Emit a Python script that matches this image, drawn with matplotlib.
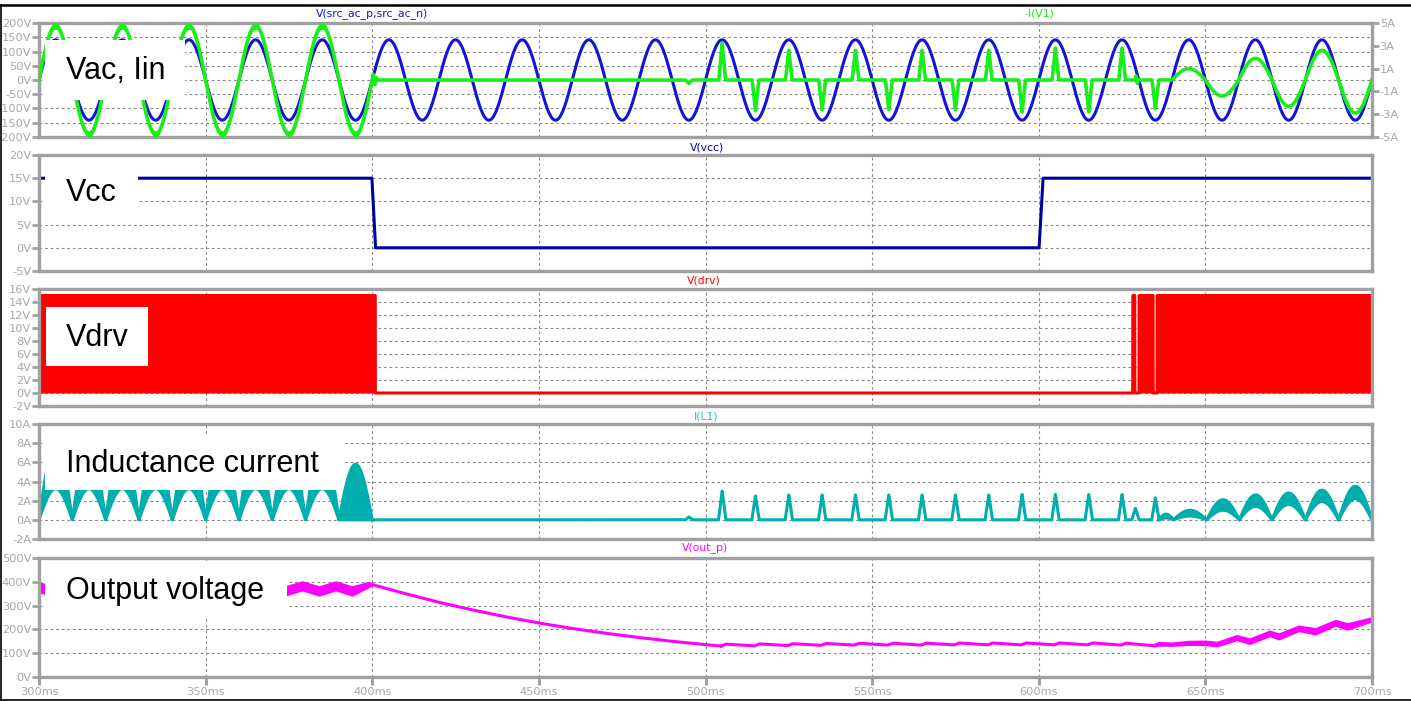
import numpy as np
import matplotlib
matplotlib.use('Agg')
import matplotlib.pyplot as plt
from matplotlib.patches import Rectangle
from matplotlib.lines import Line2D

W, H = 1411, 701
T0, T1 = 300, 700

# --- AC line ---
VAC_PEAK = 141.0
LINE_HZ = 50.0
PFC_STOP = 400.0

# --- input current -I(V1) ---
IIN_PEAK_RUN = 4.75
IIN_RIPPLE = 0.3
IIN_RING_T = [400.3, 400.8, 401.3, 629.2, 629.6]
IIN_RING_A = [0.5, -0.4, 0.2, 0.35, -0.3]
IIN_SPIKE_T = [495, 505, 515, 525, 535, 545, 555, 565, 575, 585, 595, 605, 615, 625, 635]
IIN_SPIKE_A = [-0.3, 3.2, -2.7, 2.6, -2.6, 2.6, -2.6, 2.6, -2.6, 2.6, -2.8, 2.8, -2.8, 2.8, -2.5]
IIN_RESTART_EDGES = [640, 650, 660, 670, 680, 690, 700]
IIN_RESTART_PK = [1.0, -1.4, 1.9, -2.3, 2.6, -2.9]

# --- Vcc ---
VCC_T = [300, 399.9, 401.0, 600.1, 601.3, 700]
VCC_V = [15, 15, 0, 0, 15, 15]

# --- gate drive bursts (solid at this time scale) ---
DRV_ON_START = [300.0, 628.2, 630.1, 635.5]
DRV_ON_END = [400.9, 628.8, 634.3, 700.0]
DRV_HIGH = 15.0

# --- inductor current I(L1) ---
IL_RUN_EDGES = [300, 310, 320, 330, 340, 350, 360, 370, 380, 390, 400]
IL_RUN_UPPER = [7.8, 7.8, 7.8, 7.8, 7.8, 7.8, 7.8, 7.8, 7.8, 5.8]
IL_RUN_LOWER = [3.25, 3.25, 3.25, 3.25, 3.25, 3.25, 3.25, 3.25, 3.25, 0.0]
IL_SPIKE_T = [495, 505, 515, 525, 535, 545, 555, 565, 575, 585, 595, 605, 615, 625, 629, 635]
IL_SPIKE_A = [0.3, 3.0, 2.5, 2.6, 2.6, 2.6, 2.6, 2.6, 2.6, 2.6, 2.65, 2.65, 2.65, 2.65, 1.2, 2.3]
IL_HUMP_EDGES = [636, 640.4, 650.4, 660.2, 670, 680, 690, 700]
IL_HUMP_UPPER = [0.6, 1.0, 2.1, 2.6, 2.8, 3.1, 3.5]
IL_HUMP_LOWER = [0.2, 0.4, 1.0, 1.4, 1.6, 1.9, 2.2]

# --- output voltage V(out_p) ---
VOUT_RUN_T = [300, 304, 309, 314, 319, 324, 329, 334, 339, 344, 349,
              354, 359, 364, 369, 374, 379, 384, 389, 394, 399, 400]
VOUT_RUN_HI = [396, 380, 400, 380, 400, 380, 400, 380, 400, 380, 400,
               380, 400, 380, 400, 380, 400, 379, 400, 379, 398, 391]
VOUT_RUN_LO = [357, 345, 366, 345, 366, 345, 366, 345, 366, 345, 366,
               345, 366, 345, 366, 345, 366, 344, 366, 344, 380, 386]
VOUT_DECAY_T = [400, 410, 420, 430, 440, 450, 460, 470, 480, 490, 500, 504.7]
VOUT_DECAY_V = [388, 350, 314, 282, 253, 227, 204, 184, 166, 150, 136, 130]
VOUT_STEP_T = [505, 515, 525, 535, 545, 555, 565, 575, 585, 595, 605, 615, 625]
VOUT_STEP_LO = [130, 131, 132, 133, 134, 134, 134, 135, 135, 135, 135, 135, 134]
VOUT_STEP_HI = [138, 139, 140, 141, 142, 142, 142, 143, 143, 143, 143, 143, 142]
VOUT_RISE_T = [634.7, 636, 640, 645, 650, 653.5, 659.4, 663.3, 669.3, 672, 678, 683, 689, 692.6, 700]
VOUT_RISE_HI = [138, 145, 143, 150, 151, 146, 174, 160, 193, 181, 214, 203, 238, 224, 249]
VOUT_RISE_LO = [131, 134, 133, 137, 136, 131, 157, 141, 174, 160, 195, 181, 218, 201, 236]

BLUE = '#1414d8'
GREEN = '#1aee1a'
NAVY = '#0000a0'
RED = '#ff0000'
TEAL = '#00aeae'
MAGENTA = '#ff00ff'
AXIS_GRAY = '#a0a0a0'
LABEL_GRAY = '#a8a8a8'
GRID = '#8a8a8a'
LW = 2.2

t = np.linspace(T0, T1, 40001)
phase = 2 * np.pi * LINE_HZ * t / 1000.0
run = t <= PFC_STOP


def pulses(times, amps, half_width):
    out = np.zeros_like(t)
    for tc, a in zip(times, amps):
        out += a * np.clip(1 - np.abs(t - tc) / half_width, 0, None)
    return out


def half_cycles(edges, peaks):
    out = np.zeros_like(t)
    for a, b, p in zip(edges[:-1], edges[1:], peaks):
        m = (t >= a) & (t <= b)
        out[m] = p * np.sin(np.pi * (t[m] - a) / (b - a))
    return out


vac = VAC_PEAK * np.sin(phase)
iin = (np.where(run, IIN_PEAK_RUN * np.sin(phase), 0)
       + pulses(IIN_RING_T, IIN_RING_A, 0.25)
       + pulses(IIN_SPIKE_T, IIN_SPIKE_A, 1.0)
       + half_cycles(IIN_RESTART_EDGES, IIN_RESTART_PK))

drv = np.zeros_like(t)
for a, b in zip(DRV_ON_START, DRV_ON_END):
    drv[(t >= a) & (t <= b)] = DRV_HIGH

il_run_up = half_cycles(IL_RUN_EDGES, IL_RUN_UPPER)
il_run_lo = half_cycles(IL_RUN_EDGES, IL_RUN_LOWER)
il_up = half_cycles(IL_HUMP_EDGES, IL_HUMP_UPPER)
il_lo = half_cycles(IL_HUMP_EDGES, IL_HUMP_LOWER)
il_line = pulses(IL_SPIKE_T, IL_SPIKE_A, 1.1) + (il_up + il_lo) / 2

fig = plt.figure(figsize=(W / 100, H / 100), dpi=100)
plt.rcParams['font.family'] = 'DejaVu Sans'

L_PX, R_PX = 39, 1372


def panel(top, bottom, ylim, yticks, unit):
    ax = fig.add_axes([L_PX / W, 1 - bottom / H, (R_PX - L_PX) / W, (bottom - top) / H])
    ax.set_xlim(T0, T1)
    ax.set_ylim(*ylim)
    ax.set_yticks(yticks)
    ax.set_yticklabels([f'{v}{unit}' for v in yticks])
    ax.set_xticks(range(300, 701, 50))
    ax.tick_params(axis='x', length=0, labelbottom=False)
    ax.tick_params(axis='y', color=AXIS_GRAY, labelcolor=LABEL_GRAY, length=5,
                   width=2, pad=0.5, labelsize=8.2)
    for s in ax.spines.values():
        s.set_color(AXIS_GRAY)
        s.set_linewidth(2.4)
    ax.grid(True, color=GRID, ls=(0, (2.5, 2.5)), lw=0.8)
    ax.set_axisbelow(True)
    return ax


# Vac and input current
ax1 = panel(23, 137, (-200, 200), list(range(200, -201, -50)), 'V')
ax1.plot(t, vac, color=BLUE, lw=LW)
ax1r = ax1.twinx()
ax1r.set_ylim(-5, 5)
ax1r.set_yticks([5, 3, 1, -1, -3, -5])
ax1r.set_yticklabels(['5A', '3A', '1A', '-1A', '-3A', '-5A'])
ax1r.tick_params(axis='y', color=AXIS_GRAY, labelcolor=LABEL_GRAY, length=5,
                 width=2, pad=0.5, labelsize=8.2)
for s in ax1r.spines.values():
    s.set_visible(False)
ax1r.fill_between(t[run], iin[run] - IIN_RIPPLE, iin[run] + IIN_RIPPLE, color=GREEN, lw=0)
ax1r.plot(t, iin, color=GREEN, lw=LW + 0.4)

# Vcc
ax2 = panel(155, 271, (-5, 20), [20, 15, 10, 5, 0, -5], 'V')
ax2.plot(VCC_T, VCC_V, color=NAVY, lw=LW)

# gate drive
ax3 = panel(289, 406, (-2, 16), list(range(16, -3, -2)), 'V')
ax3.fill_between(t, 0, drv, color=RED, lw=0)
ax3.plot(t, drv, color=RED, lw=LW)

# inductor current: ripple band while switching, spikes while stopped
ax4 = panel(424, 539, (-2, 10), [10, 8, 6, 4, 2, 0, -2], 'A')
for m, up, lo in [(run, il_run_up, il_run_lo), (t >= IL_HUMP_EDGES[0], il_up, il_lo)]:
    ax4.fill_between(t[m], lo[m], up[m], color=TEAL, lw=0)
    ax4.plot(t[m], up[m], color=TEAL, lw=LW)
    ax4.plot(t[m], lo[m], color=TEAL, lw=LW)
ax4.plot(t[~run], il_line[~run], color=TEAL, lw=LW)

# output voltage
ax5 = panel(558, 677, (0, 500), [500, 400, 300, 200, 100, 0], 'V')
ax5.fill_between(VOUT_RUN_T, VOUT_RUN_LO, VOUT_RUN_HI, color=MAGENTA, lw=1.5, edgecolor=MAGENTA)
ax5.plot(VOUT_DECAY_T, VOUT_DECAY_V, color=MAGENTA, lw=LW)
step_t, step_v = [VOUT_DECAY_T[-1]], [VOUT_DECAY_V[-1]]
for ts, lo, hi in zip(VOUT_STEP_T, VOUT_STEP_LO, VOUT_STEP_HI):
    step_t += [ts - 0.3, ts + 1.2]
    step_v += [lo, hi]
step_t.append(VOUT_RISE_T[0])
step_v.append(VOUT_RISE_LO[0])
ax5.plot(step_t, step_v, color=MAGENTA, lw=LW)
ax5.fill_between(VOUT_RISE_T, VOUT_RISE_LO, VOUT_RISE_HI, color=MAGENTA, lw=1.5, edgecolor=MAGENTA)
ax5.set_xticklabels([f'{v}ms' for v in range(300, 701, 50)])
ax5.tick_params(axis='x', length=6, width=2.2, color=AXIS_GRAY, labelcolor=LABEL_GRAY,
                labelbottom=True, labelsize=8.2, pad=1)


def fx(x):
    return x / W


def fy(y):
    return 1 - y / H


# trace names above each pane
for txt, x, y, c in [('V(src_ac_p,src_ac_n)', 372, 14, BLUE), ('-I(V1)', 1039, 14, GREEN),
                     ('V(vcc)', 707, 147, NAVY), ('V(drv)', 704, 281, RED),
                     ('I(L1)', 706, 416, '#30c0c0'), ('V(out_p)', 705, 548, MAGENTA)]:
    fig.text(fx(x), fy(y), txt, color=c, fontsize=7.8, ha='center', va='center')

# white label boxes over the traces
for txt, x0, y0, x1, y1 in [('Vac, Iin', 45, 40, 185, 100), ('Vcc', 45, 168, 138, 216),
                            ('Vdrv', 46, 307, 148, 366), ('Inductance current', 45, 436, 343, 490),
                            ('Output voltage', 45, 563, 287, 617)]:
    fig.add_artist(Rectangle((fx(x0), fy(y1)), (x1 - x0) / W, (y1 - y0) / H,
                             transform=fig.transFigure, facecolor='white', edgecolor='none', zorder=5))
    fig.text(fx(66), fy((y0 + y1) / 2 + 1), txt, fontsize=22, family='Liberation Sans',
             color='black', ha='left', va='center', zorder=6)

# window frame
fig.add_artist(Line2D([0, 1], [fy(5), fy(5)], transform=fig.transFigure, color='black', lw=1.8))
fig.add_artist(Line2D([fx(0.7), fx(0.7)], [0, fy(5)], transform=fig.transFigure, color='black', lw=1.2))
fig.add_artist(Line2D([0, 1], [fy(700.3), fy(700.3)], transform=fig.transFigure, color='black', lw=1.2))

fig.savefig('out.png', dpi=100)
